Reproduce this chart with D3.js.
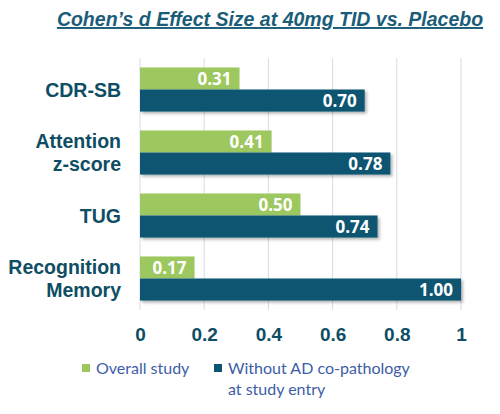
<!DOCTYPE html>
<html>
<head>
<meta charset="utf-8">
<script src="https://cdn.jsdelivr.net/npm/d3@7"></script>
<style>
  body { margin: 0; background: #fff; }
  svg { display: block; }
</style>
</head>
<body>
<svg id="chart" width="500" height="414"></svg>
<script>
// chart data
var categories = [["CDR-SB"], ["Attention", "z-score"], ["TUG"], ["Recognition", "Memory"]];
var overall = [0.31, 0.41, 0.50, 0.17];
var withoutAD = [0.70, 0.78, 0.74, 1.00];
var ticks = [0, 0.2, 0.4, 0.6, 0.8, 1];
var seriesNames = ["Overall study", ["Without AD co-pathology", "at study entry"]];

var green = "#9dc75f", teal = "#0b5571", labelColor = "#0e4d63";

var svg = d3.select("#chart");

var defs = svg.append("defs");
var f = defs.append("filter").attr("id", "shadow")
  .attr("x", "-5%").attr("y", "-20%").attr("width", "115%").attr("height", "160%");
f.append("feDropShadow").attr("dx", 2).attr("dy", 2).attr("stdDeviation", 1.5)
  .attr("flood-color", "#000").attr("flood-opacity", 0.3);

var x = d3.scaleLinear().domain([0, 1]).range([140, 461]);
var y = d3.scaleBand().domain(d3.range(categories.length))
  .range([58, 310]).paddingInner(0.3).paddingOuter(0.15);
var sub = d3.scaleBand().domain([0, 1]).range([0, y.bandwidth()]);

//title
svg.append("text")
  .attr("x", 270).attr("y", 26)
  .attr("text-anchor", "middle")
  .style("font-family", "Liberation Sans, Arial, sans-serif")
  .style("font-weight", "bold").style("font-style", "italic")
  .style("font-size", "19.5px")
  .style("text-decoration", "underline")
  .attr("fill", "#1b5d78")
  .text("Cohen\u2019s d Effect Size at 40mg TID vs. Placebo");

//gridlines
svg.append("g").selectAll("line").data(ticks).enter().append("line")
  .attr("x1", function(d){ return x(d); }).attr("x2", function(d){ return x(d); })
  .attr("y1", 58).attr("y2", 310)
  .attr("stroke", "#d6dbe8").attr("stroke-width", 1);

//x axis labels
var xAxis = d3.axisBottom(x).tickValues(ticks).tickSize(0).tickPadding(0)
  .tickFormat(function(d){ return d === 0 || d === 1 ? d3.format("d")(d) : d3.format(".1f")(d); });
var ax = svg.append("g").attr("transform", "translate(0,327)").call(xAxis);
ax.select(".domain").remove();
ax.selectAll("text")
  .style("font-family", "Liberation Sans, Arial, sans-serif")
  .style("font-weight", "bold").style("font-size", "19px")
  .attr("fill", labelColor);

//bars
var rows = svg.append("g").selectAll("g").data(categories).enter().append("g")
  .attr("transform", function(d, i){ return "translate(0," + y(i) + ")"; });

[overall, withoutAD].forEach(function(vals, s) {
  rows.append("rect")
    .attr("x", x(0))
    .attr("y", sub(s))
    .attr("width", function(d, i){ return x(vals[i]) - x(0); })
    .attr("height", sub.bandwidth())
    .attr("fill", s === 0 ? green : teal)
    .attr("filter", s === 1 ? "url(#shadow)" : null);
});
[overall, withoutAD].forEach(function(vals, s) {
  rows.append("text")
    .attr("x", function(d, i){ return x(vals[i]) - 8; })
    .attr("y", sub(s) + sub.bandwidth() / 2)
    .attr("dy", "0.36em")
    .attr("text-anchor", "end")
    .style("font-family", "Open Sans, sans-serif")
    .style("font-weight", "bold").style("font-size", "17px")
    .attr("fill", "#fff")
    .text(function(d, i){ return d3.format(".2f")(vals[i]); });
});

//category labels
var cat = rows.append("text")
  .attr("text-anchor", "end")
  .style("font-family", "Liberation Sans, Arial, sans-serif")
  .style("font-weight", "bold").style("font-size", "19.5px")
  .attr("fill", labelColor);
cat.each(function(d) {
  var t = d3.select(this);
  var y0 = y.bandwidth() / 2 - (d.length - 1) * 11.5;
  d.forEach(function(line, k) {
    t.append("tspan").attr("x", 121).attr("y", y0 + k * 23).attr("dy", "0.36em").text(line);
  });
});

//legend
var legend = svg.append("g")
  .style("font-family", "Lato, sans-serif").style("font-size", "16px");
var lx = [82, 214];
seriesNames.forEach(function(name, s) {
  legend.append("rect").attr("x", lx[s]).attr("y", 364).attr("width", 8).attr("height", 8)
    .attr("fill", s === 0 ? green : teal);
  var lines = typeof name === "string" ? [name] : name;
  lines.forEach(function(line, k) {
    legend.append("text").attr("x", lx[s] + 14).attr("y", 374 + k * 21)
      .attr("fill", "#3d5da6").text(line);
  });
});
</script>
</body>
</html>
